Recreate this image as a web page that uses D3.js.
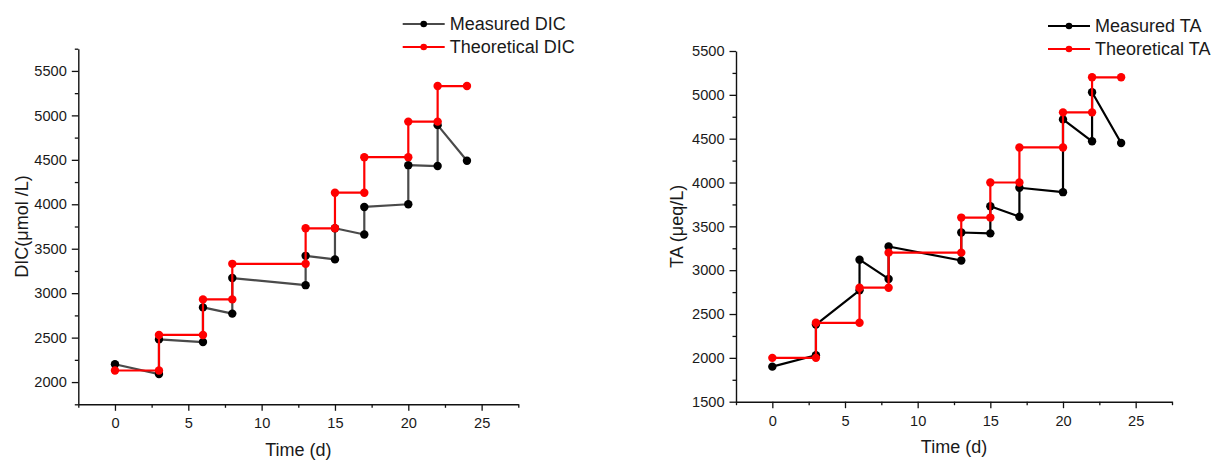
<!DOCTYPE html>
<html>
<head>
<meta charset="utf-8">
<script src="https://cdn.jsdelivr.net/npm/d3@7"></script>
<style>
  html, body { margin: 0; padding: 0; background: #fff; }
  svg { display: block; font-family: Arial, "Liberation Sans", sans-serif; }
</style>
</head>
<body>
<svg id="chart" width="1214" height="460"></svg>
<script>
// ---- Data ----
const timeDays = [0, 3, 3, 6, 6, 8, 8, 13, 13, 15, 15, 17, 17, 20, 20, 22, 22, 24];
const measuredDIC = [2200, 2090, 2480, 2450, 2840, 2770, 3170, 3090, 3420, 3380, 3730, 3660, 3970, 4000, 4440, 4430, 4890, 4490];
const theoreticalDIC = [2130, 2130, 2530, 2530, 2930, 2930, 3330, 3330, 3730, 3730, 4130, 4130, 4530, 4530, 4930, 4930, 5330, 5330];
const measuredTA = [1900, 2030, 2380, 2770, 3120, 2900, 3270, 3110, 3430, 3420, 3730, 3610, 3940, 3890, 4720, 4470, 5030, 4450];
const theoreticalTA = [2000, 2000, 2400, 2400, 2800, 2800, 3200, 3200, 3600, 3600, 4000, 4000, 4400, 4400, 4800, 4800, 5200, 5200];

const xTicks = [0, 5, 10, 15, 20, 25];
const xMinorTicks = [-2.5, 2.5, 7.5, 12.5, 17.5, 22.5, 27.5];
const dicTicks = [2000, 2500, 3000, 3500, 4000, 4500, 5000, 5500];
const dicMinorTicks = [1750, 2250, 2750, 3250, 3750, 4250, 4750, 5250, 5750];
const taTicks = [1500, 2000, 2500, 3000, 3500, 4000, 4500, 5000, 5500];
const taMinorTicks = [1750, 2250, 2750, 3250, 3750, 4250, 4750, 5250];

const dicLegend = ["Measured DIC", "Theoretical DIC"];
const taLegend = ["Measured TA", "Theoretical TA"];

const svg = d3.select("#chart");
const textColor = "#1a1a1a";

function drawPanel(o) {
  const g = svg.append("g");
  const x = d3.scaleLinear().domain(o.xDomain).range([o.left, o.right]);
  const y = d3.scaleLinear().domain(o.yDomain).range([o.bottom, o.top]);

  // minor ticks
  const yMinor = g.append("g").attr("transform", `translate(${o.left},0)`)
    .call(d3.axisLeft(y).tickValues(o.yMinor).tickSize(3.5).tickFormat("").tickSizeOuter(0));
  yMinor.select(".domain").remove();
  const xMinor = g.append("g").attr("transform", `translate(0,${o.bottom})`)
    .call(d3.axisBottom(x).tickValues(xMinorTicks).tickSize(3.5).tickFormat("").tickSizeOuter(0));
  xMinor.select(".domain").remove();

  // major axes
  const ya = g.append("g").attr("transform", `translate(${o.left},0)`)
    .call(d3.axisLeft(y).tickValues(o.yTicks).tickSize(6.5).tickPadding(5).tickSizeOuter(0).tickFormat(d3.format("d")));
  const xa = g.append("g").attr("transform", `translate(0,${o.bottom})`)
    .call(d3.axisBottom(x).tickValues(xTicks).tickSize(6.5).tickPadding(7).tickSizeOuter(0));

  [ya, xa, yMinor, xMinor].forEach(a => {
    a.selectAll("line").attr("stroke", "#111").attr("stroke-width", 1.3);
    a.selectAll(".domain").attr("stroke", "#111").attr("stroke-width", 1.4);
    a.selectAll("text").attr("fill", textColor).style("font-size", "14.6px")
      .style("font-family", "Arial, 'Liberation Sans', sans-serif");
  });

  // axis titles
  g.append("text")
    .attr("x", (o.left + o.right) / 2).attr("y", o.xTitleY)
    .attr("text-anchor", "middle").attr("fill", textColor)
    .style("font-size", "18px").text("Time (d)");
  g.append("text")
    .attr("transform", `translate(${o.yTitleX},${(o.top + o.bottom) / 2}) rotate(-90)`)
    .attr("text-anchor", "middle").attr("fill", textColor)
    .style("font-size", "18px").text(o.yTitle);

  const line = d3.line().x(d => x(d[0])).y(d => y(d[1]));
  const series = [
    { vals: o.measured, line: o.measuredLine, dot: "#000" },
    { vals: o.theoretical, line: "#ff0000", dot: "#ff0000" }
  ];
  series.forEach(s => {
    const pts = timeDays.map((t, i) => [t, s.vals[i]]);
    g.append("path").datum(pts).attr("d", line)
      .attr("fill", "none").attr("stroke", s.line).attr("stroke-width", 2.2)
      .attr("stroke-linejoin", "round");
    g.append("g").selectAll("circle").data(pts).join("circle")
      .attr("cx", d => x(d[0])).attr("cy", d => y(d[1])).attr("r", 4.2)
      .attr("fill", s.dot);
  });

  // legend
  o.legend.forEach((label, i) => {
    const s = series[i];
    const ly = o.legendY + i * 23;
    g.append("line").attr("x1", o.legendX).attr("x2", o.legendX + 42)
      .attr("y1", ly).attr("y2", ly).attr("stroke", s.line).attr("stroke-width", 2.2);
    g.append("circle").attr("cx", o.legendX + 21).attr("cy", ly).attr("r", 3.3).attr("fill", s.dot);
    g.append("text").attr("x", o.legendX + 47).attr("y", ly).attr("dy", "0.35em")
      .attr("fill", textColor).style("font-size", "18px").text(label);
  });
}

drawPanel({
  left: 78.3, right: 518.3, top: 48.7, bottom: 404.3,
  xDomain: [-2.5, 27.5], yDomain: [1750, 5750],
  yTicks: dicTicks, yMinor: dicMinorTicks,
  measured: measuredDIC, theoretical: theoreticalDIC, measuredLine: "#4a4a4a",
  yTitle: "DIC(μmol /L)", yTitleX: 28, xTitleY: 456,
  legend: dicLegend, legendX: 402.7, legendY: 24
});

drawPanel({
  left: 736, right: 1172, top: 51, bottom: 401.7,
  xDomain: [-2.5, 27.5], yDomain: [1500, 5500],
  yTicks: taTicks, yMinor: taMinorTicks,
  measured: measuredTA, theoretical: theoreticalTA, measuredLine: "#000",
  yTitle: "TA (μeq/L)", yTitleX: 683, xTitleY: 453,
  legend: taLegend, legendX: 1048, legendY: 26
});
</script>
</body>
</html>
